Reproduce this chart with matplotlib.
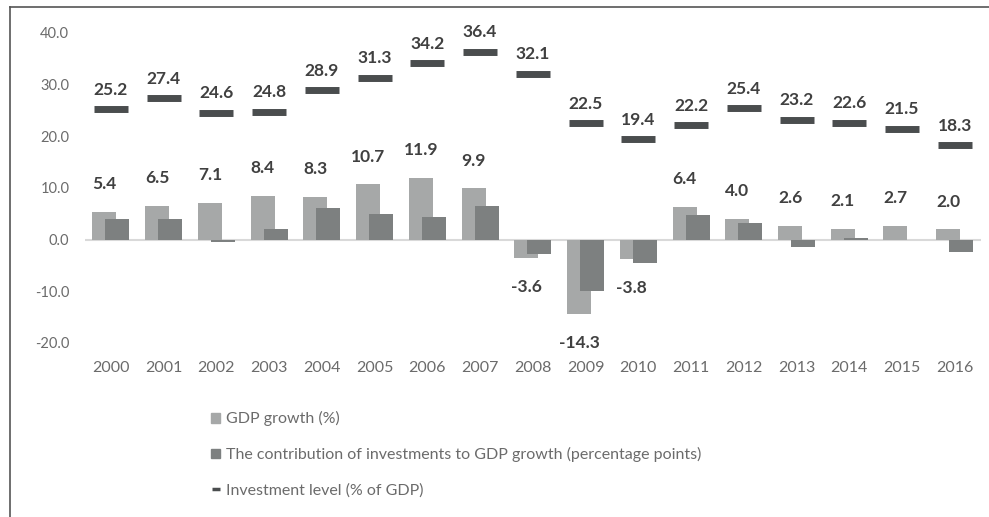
import numpy as np
import matplotlib
matplotlib.use('Agg')
import matplotlib.pyplot as plt
from matplotlib.patches import Patch
from matplotlib.lines import Line2D

plt.rcParams['font.family'] = ['Lato', 'DejaVu Sans']

years = ['2000', '2001', '2002', '2003', '2004', '2005', '2006', '2007', '2008',
         '2009', '2010', '2011', '2012', '2013', '2014', '2015', '2016']
gdp_growth = [5.4, 6.5, 7.1, 8.4, 8.3, 10.7, 11.9, 9.9, -3.6,
              -14.3, -3.8, 6.4, 4.0, 2.6, 2.1, 2.7, 2.0]
invest_contrib = [3.9, 3.9, -0.5, 2.1, 6.1, 5.0, 4.3, 6.5, -2.8,
                  -9.9, -4.5, 4.7, 3.2, -1.4, 0.3, 0.0, -2.4]
invest_level = [25.2, 27.4, 24.6, 24.8, 28.9, 31.3, 34.2, 36.4, 32.1,
                22.5, 19.4, 22.2, 25.4, 23.2, 22.6, 21.5, 18.3]

c_gdp = '#a6a8a8'
c_contrib = '#7d8080'
c_level = '#4a4d4e'
c_text = '#404040'
c_tick = '#6b6b6b'

fig = plt.figure(figsize=(9.89, 5.17), dpi=100)
ax = fig.add_axes([0.0855, 0.3366, 0.9065, 0.5996])

x = np.arange(len(years))
w = 0.455
off = 0.123
ax.bar(x - off, gdp_growth, w, color=c_gdp, zorder=2)
ax.bar(x + off, invest_contrib, w, color=c_contrib, zorder=3)
ax.plot(x, invest_level, linestyle='none', marker='_', ms=25, mew=5,
        color=c_level, zorder=4)

ax.axhline(0, color='#d9d9d9', lw=1.5, zorder=1)

for i in range(len(years)):
    ax.annotate('%.1f' % invest_level[i], (x[i], invest_level[i]),
                xytext=(0, 14), textcoords='offset points',
                ha='center', va='center', fontsize=12.5, fontweight='bold',
                color=c_text)
    g = gdp_growth[i]
    dy = 20 if g >= 0 else -21
    ax.annotate('%.1f' % g, (x[i] - off, g), xytext=(0, dy),
                textcoords='offset points', ha='center', va='center',
                fontsize=12.5, fontweight='bold', color=c_text)

ax.set_xlim(-0.5, 16.5)
ax.set_ylim(-20, 40)
ax.set_yticks([-20, -10, 0, 10, 20, 30, 40])
ax.set_yticklabels(['%.1f' % v for v in [-20, -10, 0, 10, 20, 30, 40]])
ax.set_xticks(x)
ax.set_xticklabels(years)
ax.tick_params(axis='both', length=0, colors=c_tick)
ax.tick_params(axis='y', pad=11, labelsize=10.5)
ax.tick_params(axis='x', pad=13, labelsize=11.5)
for s in ax.spines.values():
    s.set_visible(False)

handles = [Patch(color=c_gdp), Patch(color=c_contrib),
           Line2D([], [], linestyle='none', marker='_', ms=6, mew=2.5, color=c_level)]
labels = ['GDP growth (%)',
          'The contribution of investments to GDP growth (percentage points)',
          'Investment level (% of GDP)']
leg = fig.legend(handles, labels, loc='upper left', bbox_to_anchor=(0.199, 0.232),
                 frameon=False, fontsize=11.5, labelspacing=1.3,
                 handlelength=0.55, handleheight=0.55, handletextpad=0.35)
for t in leg.get_texts():
    t.set_color(c_tick)

# outer frame (left and top edges)
fig.add_artist(Line2D([10 / 989, 10 / 989], [0, 1 - 7 / 517], color='#555555', lw=1.2))
fig.add_artist(Line2D([10 / 989, 1], [1 - 7 / 517, 1 - 7 / 517], color='#555555', lw=1.2))

fig.savefig('out.png', dpi=100)
